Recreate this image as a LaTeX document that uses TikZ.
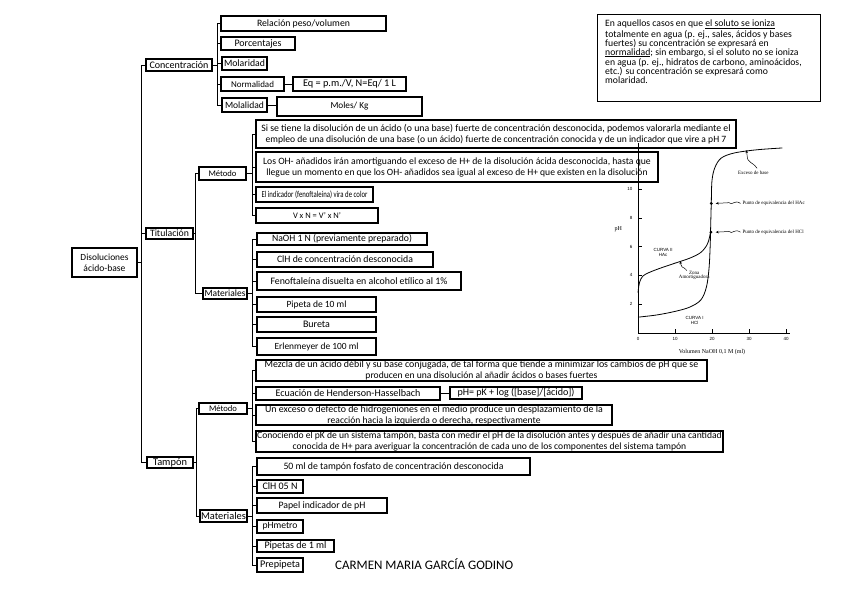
\documentclass[tikz,border=0pt]{standalone}
\usepackage{graphicx}
\usepackage{fontspec}
\setmainfont{Carlito}
\newfontfamily\grfont{Liberation Serif}
\newfontfamily\grsans{Liberation Sans}
\usetikzlibrary{arrows.meta,calc}
\tikzset{
  box/.style={draw, line width=1.2pt, inner sep=0pt, align=center, font=\fontsize{9.6}{11}\selectfont},
  conn/.style={line width=0.9pt},
  gl/.style={font=\grfont\fontsize{5}{5}\selectfont, inner sep=0pt},
  gs/.style={font=\grsans\fontsize{4.5}{5}\selectfont, inner sep=0pt, align=center},
  warr/.style={line width=0.5pt, -{Stealth[length=3pt,width=2.5pt]}}
}
\newsavebox\fitbx
\newlength\fitlen
\newcommand\fitt[2]{\sbox\fitbx{\fontsize{10}{12}\selectfont #2}\setlength\fitlen{\wd\fitbx}\pgfmathsetmacro\fsz{10*#1/\the\fitlen}\fontsize{\fsz}{\fsz}\selectfont #2}
\newcommand\fitx[2]{\resizebox{#1pt}{\height}{\fontsize{9}{10}\selectfont #2}}
\newcommand\fs[1]{\fontsize{#1}{11}\selectfont}
\newcommand\mybox[7][]{\node[box,#1,minimum width={#5-#3},minimum height={#6-#4}] (#2) at ({(#3+#5)/2},{(#4+#6)/2}) {#7};}
\newcommand\link[3]{\draw[conn] (#1.east) -- (#1.east -| #2) |- (#3.west);}
\begin{document}
\begin{tikzpicture}[x=1pt,y=-1pt]
\useasboundingbox (0,0) rectangle (848,599);
% bus coordinates
\coordinate (bR) at (141.5,0);
\coordinate (bC) at (217,0);
\coordinate (bT) at (195,0);
\coordinate (bTM) at (252.5,0);
\coordinate (bTA) at (252,0);
\coordinate (bP) at (196.5,0);
\coordinate (bPM) at (252.5,0);
\coordinate (bPA) at (252,0);
% root
\mybox{root}{72}{248}{137}{277}{\fs{9.4}Disoluciones\\ácido-base}
% level 1
\mybox{conc}{146}{59}{212}{71}{\fitt{59}{Concentración}}
\mybox{tit}{146}{228}{193}{239}{\fitt{39}{Titulación}}
\mybox{tam}{147}{457}{193}{468}{\fitt{34}{Tampón}}
% concentracion
\mybox{rpv}{221}{16}{386}{31}{\fitt{93}{Relación peso/volumen}}
\mybox{porc}{221}{37}{295}{50}{\fitt{47}{Porcentajes}}
\mybox{mola}{222}{57}{267}{70}{\fitt{41}{Molaridad}}
\mybox{norm}{221}{77}{284}{91}{\fitt{43}{Normalidad}}
\mybox{eq}{293}{77}{406}{91}{\fitt{93}{Eq = p.m./V, N=Eq/ 1 L}}
\mybox{molal}{222}{98}{267}{112}{\fitt{39}{Molalidad}}
\mybox{mkg}{277}{97}{422}{116}{\fitt{38}{Moles/ Kg}}
% titulacion
\mybox{tmet}{199}{167}{246}{180}{\fitt{28}{Método}}
\mybox{tmat}{203}{288}{247}{299}{\fitt{41}{Materiales}}
\mybox{tm1}{256}{120}{736}{148}{\fs{9.8}Si se tiene la disolución de un ácido (o una base) fuerte de concentración desconocida, podemos valorarla mediante el\\empleo de una disolución de una base (o un ácido) fuerte de concentración conocida y de un indicador que vire a pH 7}
\mybox{tm2}{256}{152}{658}{182}{\fs{9.7}Los OH- añadidos irán amortiguando el exceso de H+ de la disolución ácida desconocida, hasta que\\llegue un momento en que los OH- añadidos sea igual al exceso de H+ que existen en la disolución}
\mybox{tm3}{256}{187}{373}{202}{\fitx{106}{El indicador (fenoftaleína) vira de color}}
\mybox{tm4}{256}{208}{378}{223}{\fitt{48}{V x N = V' x N'}}
\mybox{ta1}{257}{233}{427}{245}{\fitt{140}{NaOH 1 N (previamente preparado)}}
\mybox{ta2}{257}{252}{433}{267}{\fitt{136}{ClH de concentración desconocida}}
\mybox{ta3}{257}{272}{461}{290}{\fitt{177}{Fenoftaleína disuelta en alcohol etílico al 1\%}}
\mybox{ta4}{257}{297}{376}{312}{\fitt{60}{Pipeta de 10 ml}}
\mybox{ta5}{257}{317}{376}{332}{\fitt{27}{Bureta}}
\mybox{ta6}{257}{338}{376}{355}{\fitt{84}{Erlenmeyer de 100 ml}}
% tampon
\mybox{pmet}{199}{403}{247}{414}{\fitt{28}{Método}}
\mybox{pmat}{200}{510}{247}{522}{\fitt{45}{Materiales}}
\mybox{pm1}{256}{360}{707}{381}{\fs{9.9}Mezcla de un ácido débil y su base conjugada, de tal forma que tiende a minimizar los cambios de pH que se\\producen en una disolución al añadir ácidos o bases fuertes}
\mybox{pm2}{256}{387}{440}{400}{\fitt{145}{Ecuación de Henderson-Hasselbach}}
\mybox{ph}{450}{387}{582}{399}{\fitt{117}{pH= pK + log ([base]/[ácido])}}
\mybox{pm3}{256}{405}{612}{425}{\fs{9.9}Un exceso o defecto de hidrogeniones en el medio produce un desplazamiento de la\\reacción hacia la izquierda o derecha, respectivamente}
\mybox{pm4}{256}{431}{723}{452}{\fs{9.6}Conociendo el pK de un sistema tampón, basta con medir el pH de la disolución antes y después de añadir una cantidad\\conocida de H+ para averiguar la concentración de cada uno de los componentes del sistema tampón}
\mybox{pa1}{257}{458}{530}{475}{\fitt{220}{50 ml de tampón fosfato de concentración desconocida}}
\mybox{pa2}{257}{480}{303}{493}{\fitt{35}{ClH 05 N}}
\mybox{pa3}{257}{498}{387}{513}{\fitt{87}{Papel indicador de pH}}
\mybox{pa4}{257}{520}{303}{533}{\fitt{35}{pHmetro}}
\mybox{pa5}{257}{540}{334}{552}{\fitt{62}{Pipetas de 1 ml}}
\mybox{pa6}{257}{558}{303}{572}{\fitt{40}{Prepipeta}}
\node[anchor=west, inner sep=0pt] (author) at (335,564) {\fitt{178}{CARMEN MARIA GARCÍA GODINO}};
% connectors
\link{root}{bR}{conc}
\link{root}{bR}{tit}
\link{root}{bR}{tam}
\foreach \c in {rpv,porc,mola,norm,molal} {\link{conc}{bC}{\c}}
\draw[conn] (norm.east) -- (eq.west);
\draw[conn] (molal.east) -- (molal.east -| mkg.west);
\link{tit}{bT}{tmet}
\link{tit}{bT}{tmat}
\foreach \c in {tm1,tm2,tm3,tm4} {\link{tmet}{bTM}{\c}}
\foreach \c in {ta1,ta2,ta3,ta4,ta5,ta6} {\link{tmat}{bTA}{\c}}
\link{tam}{bP}{pmet}
\link{tam}{bP}{pmat}
\foreach \c in {pm1,pm2,pm3,pm4} {\link{pmet}{bPM}{\c}}
\draw[conn] (pm2.east) -- (pm2.east -| ph.west);
\foreach \c in {pa1,pa2,pa3,pa4,pa5,pa6} {\link{pmat}{bPA}{\c}}
% note box
\node[draw, line width=1pt, minimum width=223, minimum height=87, inner sep=0pt] (note) at (708.5,58.5) {};
\node[anchor=north west, align=left, inner sep=0pt, font=\fontsize{9.7}{9}\selectfont] (notetext) at (605,20) {En aquellos casos en que \underline{el soluto se ioniza}\\totalmente en agua (p. ej., sales, ácidos y bases\\fuertes) su concentración se expresará en\\\underline{normalidad}; sin embargo, si el soluto no se ioniza\\en agua (p. ej., hidratos de carbono, aminoácidos,\\etc.) su concentración se expresará como\\molaridad.};
% graph
\begin{scope}[shift={(638,333)}, x=3.7pt, y=14.4pt]
  \draw[line width=0.7pt] (0,13.2) -- (0,0) -- (41,0);
  \foreach \v in {2,4,...,10} {\draw[line width=0.5pt] (0,\v) -- (1.1,\v); \node[gs, anchor=east] at (-1.5,\v) {\v};}
  \foreach \v in {10,20,30,40} {\draw[line width=0.5pt] (\v,0) -- (\v,0.3); }
  \foreach \v in {0,10,20,30,40} {\node[gs, anchor=north] at (\v,-0.3) {\v};}
  \node[gl, font=\grfont\fontsize{6}{6}\selectfont] (phl) at (-5.3,7.2) {pH};
  \node[gl, font=\grfont\fontsize{6}{6}\selectfont, anchor=north] (xl) at (20,-1.1) {Volumen NaOH 0,1 M (ml)};
  % curve II
  \draw[line width=0.8pt] plot[smooth, tension=0.55] coordinates {(0,2.8) (0.4,3.5) (1.3,3.95) (3,4.2) (6,4.5) (10,4.85) (14,5.2) (17,5.6) (18.8,6.2) (19.6,7)};
  \draw[line width=0.8pt] plot[smooth, tension=0.55] coordinates {(19.6,7) (19.8,9) (20,10.6) (20.8,11.5) (22.5,12.15) (26,12.5) (32,12.72) (39,12.85)};
  % curve I
  \draw[line width=0.8pt] plot[smooth, tension=0.55] coordinates {(0,1.1) (5,1.25) (10,1.5) (14,1.8) (17,2.3) (18.5,3.2) (19.2,4.5) (19.5,6) (19.6,7)};
  \fill (19.7,7) circle[radius=1.6pt];
  \fill (19.8,9) circle[radius=1.6pt];
  \node[gs] (c2) at (6.8,5.6) {CURVA II\\HAc};
  \node[gs] (c1) at (15.3,0.9) {CURVA I\\HCl};
  \node[gl, align=center] (zona) at (15.2,4.0) {Zona\\Amortiguadora};
  \node[gl, anchor=west] (peq1) at (28.2,9) {Punto de equivalencia del HAc};
  \node[gl, anchor=west] (peq2) at (28.2,7) {Punto de equivalencia del HCl};
  \node[gl, anchor=west] (exb) at (27,11.1) {Exceso de base};
  \draw[warr] (peq1.west) ++(-0.5,0) .. controls (26,9.3) and (25.5,8.8) .. (24.6,9.05) -- (21,9);
  \draw[warr] (peq2.west) ++(-0.5,0) .. controls (26,7.3) and (25.5,6.8) .. (24.6,7.05) -- (21,7);
  \draw[warr] (exb.north) ++(1,0.2) .. controls (31,11.9) and (29.5,11.8) .. (29.5,12.3) -- (29.3,12.7);
  \draw[warr] (zona.north) ++(-2,0) .. controls (12,4.7) and (11.5,4.5) .. (11.6,4.75) -- (11.4,5.0);
\end{scope}
\end{tikzpicture}
\end{document}
